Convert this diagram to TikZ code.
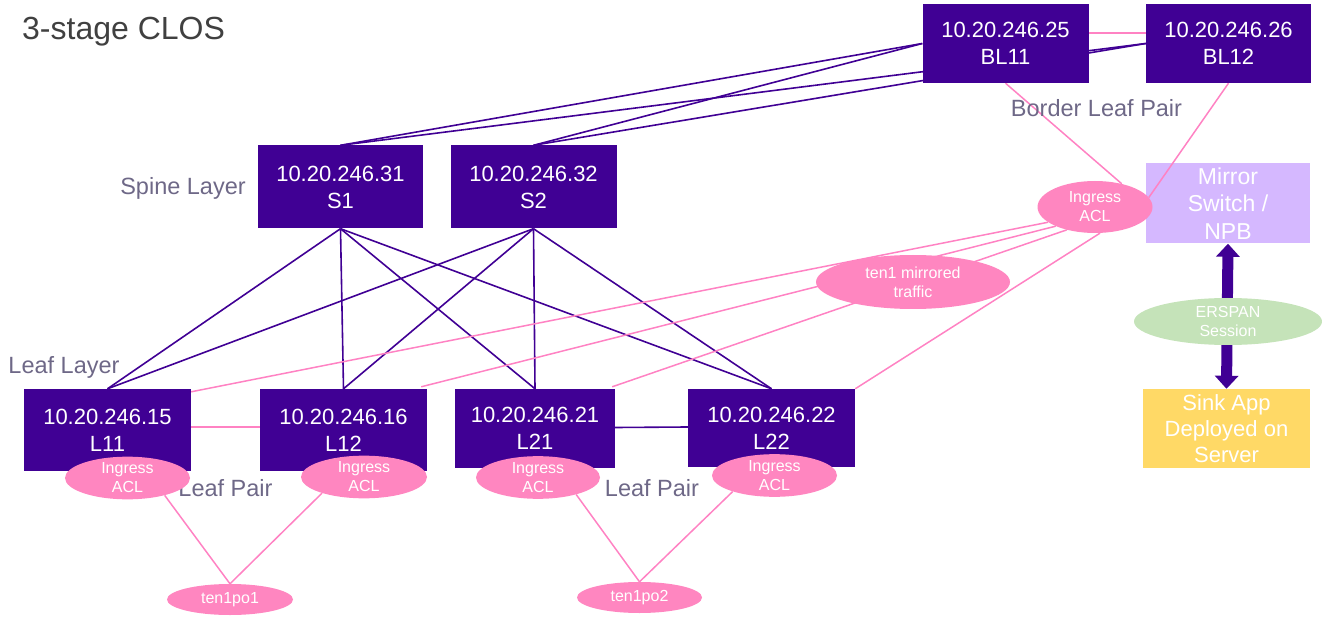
\documentclass[tikz,border=0pt]{standalone}
\usepackage{fontspec}
\setmainfont{Liberation Sans}
\usetikzlibrary{shapes.geometric,arrows.meta}
\definecolor{purp}{RGB}{64,0,148}
\definecolor{pinkln}{RGB}{255,130,195}
\definecolor{pinkfill}{RGB}{255,134,192}
\definecolor{lav}{RGB}{213,184,255}
\definecolor{grn}{RGB}{197,227,185}
\definecolor{yel}{RGB}{255,217,102}
\definecolor{lblgray}{RGB}{110,104,135}
\definecolor{ttlgray}{RGB}{64,64,64}
\pgfdeclarelayer{back}
\pgfdeclarelayer{mid}
\pgfsetlayers{back,mid,main}
\tikzset{
  devbox/.style={fill=purp, text=white, inner sep=0pt, align=center,
    font=\fontsize{22}{27}\selectfont},
  colbox/.style={text=white, inner sep=0pt, align=center,
    font=\fontsize{23}{27.5}\selectfont},
  aclell/.style={ellipse, fill=pinkfill, text=white, inner sep=0pt, align=center,
    font=\fontsize{16}{19}\selectfont},
  lbl/.style={text=lblgray, inner sep=0pt, font=\fontsize{23.5}{28}\selectfont},
  darkln/.style={draw=purp, line width=1.6pt},
  pinkl/.style={draw=pinkln, line width=1.5pt}
}
\begin{document}
\begin{tikzpicture}[x=1pt,y=-1pt]
\useasboundingbox (0,0) rectangle (1322,617);
% title
\node[text=ttlgray, anchor=west, inner sep=0pt, font=\fontsize{32}{38}\selectfont] (title) at (22,32) {3-stage CLOS};
% border leaves
\node[devbox, minimum width=166pt, minimum height=79pt] (BL11) at (1005.5,43.5) {10.20.246.25\\BL11};
\node[devbox, minimum width=165pt, minimum height=79pt] (BL12) at (1228.5,43.5) {10.20.246.26\\BL12};
% spines
\node[devbox, minimum width=165pt, minimum height=83pt] (S1) at (340.5,187) {10.20.246.31\\S1};
\node[devbox, minimum width=166pt, minimum height=83pt] (S2) at (533.5,187) {10.20.246.32\\S2};
% leaves
\node[devbox, minimum width=167pt, minimum height=82pt] (L11) at (107.5,430) {10.20.246.15\\L11};
\node[devbox, minimum width=167pt, minimum height=82pt] (L12) at (343.5,430) {10.20.246.16\\L12};
\node[devbox, minimum width=160pt, minimum height=79pt] (L21) at (535,428.5) {10.20.246.21\\L21};
\node[devbox, minimum width=167pt, minimum height=78pt] (L22) at (771.5,428) {10.20.246.22\\L22};
% mirror and sink
\begin{pgfonlayer}{back}
\node[colbox, fill=lav, minimum width=164pt, minimum height=80pt] (mirror) at (1228,203.5) {Mirror\\Switch /\\NPB};
\end{pgfonlayer}
\node[colbox, fill=yel, minimum width=167pt, minimum height=79pt, font=\fontsize{22}{26}\selectfont] (sink) at (1226.5,428.5) {Sink App\\Deployed on\\Server};
% labels
\node[lbl] (borderlbl) at (1096.5,108) {Border Leaf Pair};
\node[lbl] (spinelbl) at (183,188) {Spine Layer};
\node[lbl] (leaflbl) at (64,367) {Leaf Layer};
\node[lbl] (pair1) at (225.5,488) {Leaf Pair};
\node[lbl] (pair2) at (652,488) {Leaf Pair};
% ellipses
\node[aclell, minimum width=115pt, minimum height=52pt] (aclM) at (1095,207) {Ingress\\ACL};
\node[aclell, minimum width=194pt, minimum height=54pt] (ten1) at (913,282) {ten1 mirrored\\traffic};
\node[aclell, fill=grn, minimum width=188pt, minimum height=47pt] (erspan) at (1228,321.5) {ERSPAN\\Session};
\node[aclell, minimum width=125pt, minimum height=42pt] (aclL11) at (127.5,478) {Ingress\\ACL};
\node[aclell, minimum width=126pt, minimum height=42pt] (aclL12) at (364,477) {Ingress\\ACL};
\node[aclell, minimum width=124pt, minimum height=41pt] (aclL21) at (538,477.5) {Ingress\\ACL};
\node[aclell, minimum width=125pt, minimum height=41pt] (aclL22) at (774.5,475.5) {Ingress\\ACL};
\node[aclell, minimum width=126pt, minimum height=31pt] (po1) at (230,599.5) {ten1po1};
\node[aclell, minimum width=125pt, minimum height=31pt] (po2) at (639.5,597.5) {ten1po2};
% connectors
\begin{pgfonlayer}{mid}
% spine to border leaves
\draw[darkln] (S1.north) -- (BL11.west);
\draw[darkln] (S2.north) -- (BL11.west);
\draw[darkln] (S1.north) -- (BL12.west);
\draw[darkln] (S2.north) -- (BL12.west);
\draw[pinkl, line width=2pt] ([yshift=10.5pt]BL11.east) -- ([yshift=10.5pt]BL12.west);
% spine to leaves
\foreach \s in {S1,S2}{
  \foreach \l in {L11,L12,L21,L22}{
    \draw[darkln] (\s.south) -- (\l.north);
  }
}
% leaf pairs
\draw[pinkl] ([yshift=3pt]L11.east) -- ([yshift=3pt]L12.west);
\draw[darkln] ([yshift=1pt]L21.east) -- ([yshift=1pt]L22.west);
% leaf ACL to port channels
\draw[pinkl] (aclL11.-25) -- (po1.north);
\draw[pinkl] (aclL12.201) -- (po1.north);
\draw[pinkl] (aclL21.-24) -- (po2.north);
\draw[pinkl] (aclL22.201) -- (po2.north);
% mirrored traffic to mirror ACL
\draw[pinkl] ([yshift=-3pt]L11.north east) -- (aclM.198);
\draw[pinkl] ([xshift=-6pt,yshift=2pt]L12.north east) -- (aclM.206);
\draw[pinkl] ([xshift=-3pt,yshift=2pt]L21.north east) -- (aclM.219);
\draw[pinkl] (L22.north east) -- (aclM.281);
\draw[pinkl] (BL11.south) -- (aclM.41);
\draw[pinkl] (BL12.south) -- (aclM.10);
% ERSPAN arrow
\draw[purp, line width=11pt, {Triangle[width=23pt,length=13pt]}-{Triangle[width=23pt,length=13pt]}] (mirror.south) -- (sink.north);
\end{pgfonlayer}
\end{tikzpicture}
\end{document}
